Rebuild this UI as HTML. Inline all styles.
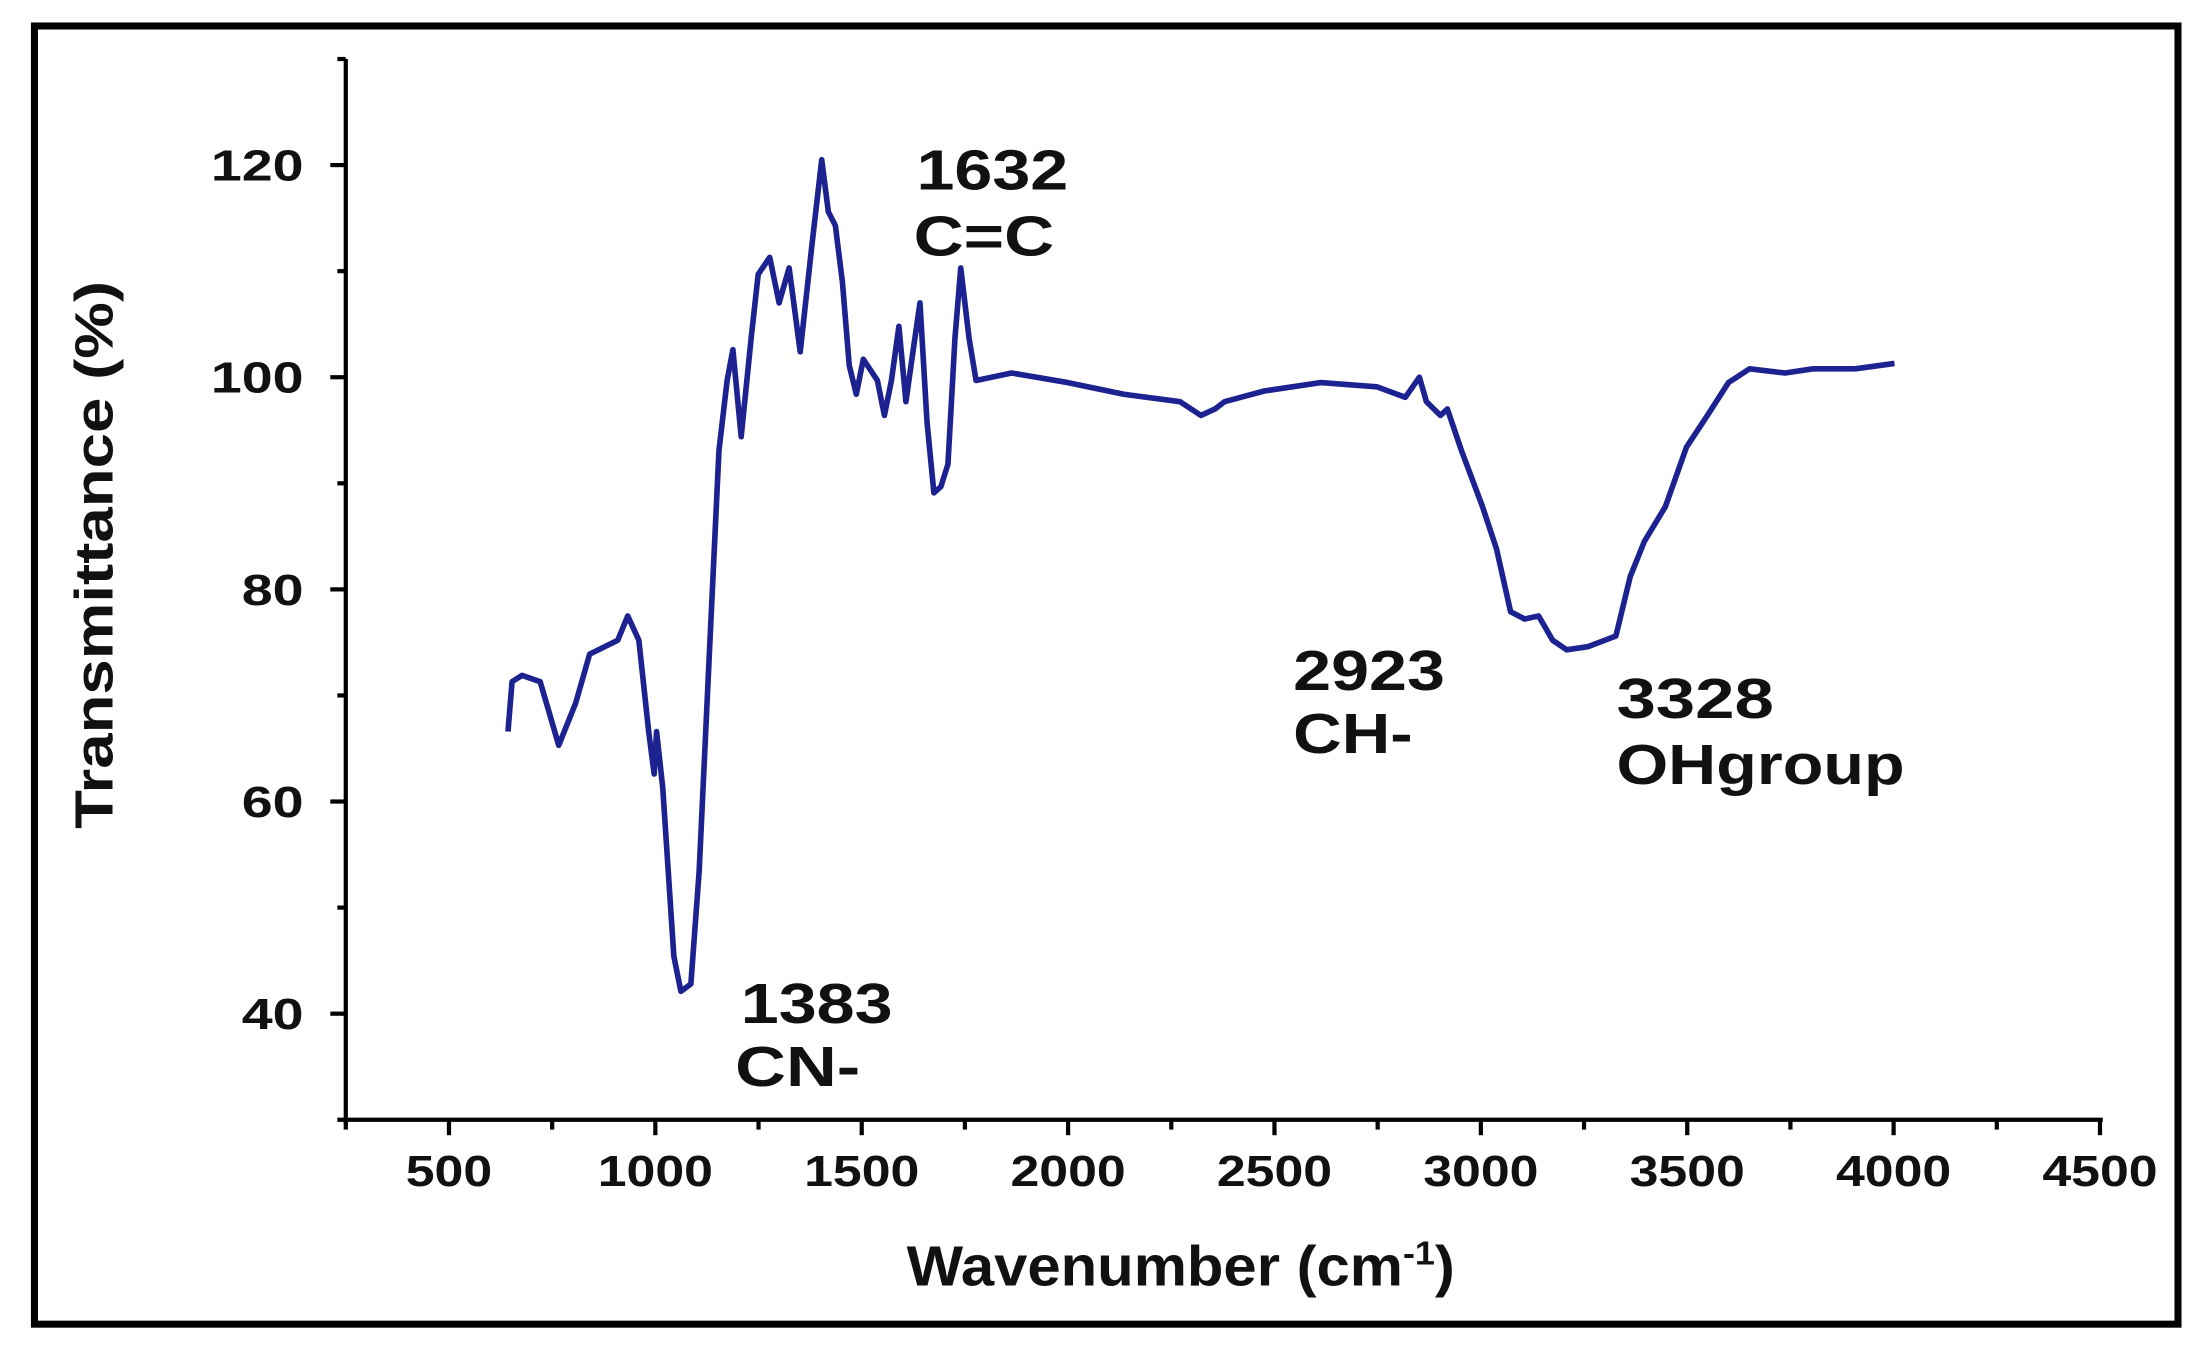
<!DOCTYPE html>
<html><head><meta charset="utf-8"><style>
html,body{margin:0;padding:0;background:#fff;}
svg{display:block;}
text{font-family:"Liberation Sans",sans-serif;fill:#111;}
</style></head><body>
<svg id="chart" width="2204" height="1360" viewBox="0 0 1568 968" preserveAspectRatio="none" xmlns="http://www.w3.org/2000/svg">
<rect x="24.5" y="18.5" width="1525" height="924" fill="#fff" stroke="#000" stroke-width="5"/>
<g id="axes"></g>
<path id="spectrum" fill="none" stroke="#1c2290" stroke-width="4" stroke-linejoin="round"/>
<g font-size="40" font-weight="bold" lengthAdjust="spacingAndGlyphs">
<text x="652" y="135" textLength="108" lengthAdjust="spacingAndGlyphs">1632</text>
<text x="650" y="182" textLength="100" lengthAdjust="spacingAndGlyphs">C=C</text>
<text x="527" y="728" textLength="108" lengthAdjust="spacingAndGlyphs">1383</text>
<text x="523" y="773" textLength="89" lengthAdjust="spacingAndGlyphs">CN-</text>
<text x="920" y="491" textLength="108" lengthAdjust="spacingAndGlyphs">2923</text>
<text x="920" y="536" textLength="85" lengthAdjust="spacingAndGlyphs">CH-</text>
<text x="1150" y="511" textLength="112" lengthAdjust="spacingAndGlyphs">3328</text>
<text x="1150" y="558" textLength="205" lengthAdjust="spacingAndGlyphs">OHgroup</text>
</g>
<text x="645" y="915" font-size="40" font-weight="bold" textLength="390" lengthAdjust="spacingAndGlyphs">Wavenumber (cm<tspan font-size="24" dy="-15">-1</tspan><tspan dy="15">)</tspan></text>
<text transform="translate(80,395) rotate(-90)" font-size="38" font-weight="bold" text-anchor="middle" textLength="390" lengthAdjust="spacingAndGlyphs">Transmittance (%)</text>
</svg>
<script>
const wavenumbers=[643,653,677,721,766,807,841,909,933,960,984,997,1003,1018,1045,1062,1086,1106,1130,1154,1174,1188,1208,1232,1249,1277,1300,1324,1351,1379,1403,1419,1436,1453,1470,1487,1504,1538,1555,1572,1590,1607,1624,1641,1658,1675,1692,1709,1726,1740,1760,1777,1863,1999,2135,2271,2322,2356,2379,2475,2612,2748,2817,2851,2868,2902,2919,2953,3004,3038,3072,3106,3140,3174,3208,3259,3327,3362,3396,3447,3498,3549,3600,3651,3737,3805,3907,4002];
const transmittance=[66.6,71.3,71.9,71.3,65.3,69.3,73.9,75.2,77.5,75.2,66.6,62.6,66.6,61.3,45.4,42.1,42.8,53.4,73.2,93.1,99.7,102.6,94.4,103.7,109.7,111.3,107,110.3,102.4,112.3,120.5,115.6,114.3,109,101.1,98.4,101.7,99.7,96.4,99.7,104.8,97.7,102.4,107,95.8,89.1,89.7,91.8,103.7,110.3,103.7,99.7,100.4,99.5,98.4,97.7,96.4,97,97.7,98.7,99.5,99.1,98.1,100,97.7,96.4,97,93.1,87.8,83.8,77.9,77.2,77.5,75.2,74.3,74.6,75.6,81.2,84.5,87.8,93.4,96.4,99.5,100.8,100.4,100.8,100.8,101.3];
const xTicks=[500,1000,1500,2000,2500,3000,3500,4000,4500];
const yTicks=[40,60,80,100,120];
const xMin=250,xMax=4500,yMin=30,yMax=130;
function sx(v){return 246+(v-xMin)*(1494-246)/(xMax-xMin);}
function sy(v){return 797-(v-yMin)*(797-42)/(yMax-yMin);}
const NS="http://www.w3.org/2000/svg";
const axes=document.getElementById('axes');
function mk(tag,attrs,parent){const e=document.createElementNS(NS,tag);for(const k in attrs)e.setAttribute(k,attrs[k]);(parent||axes).appendChild(e);return e;}
const ya=mk('line',{x1:246,y1:sy(yMax),x2:246,y2:800,stroke:'#000','stroke-width':3});


const xa=mk('line',{x1:240,y1:797,x2:1496,y2:797,stroke:'#000','stroke-width':3});


for(let v=xMin;v<=xMax;v+=250){
  const major=xTicks.includes(v);
  const t=mk('line',{x1:sx(v),y1:797,x2:sx(v),y2:major?808:804,stroke:'#000','stroke-width':3});
  
  
}
xTicks.forEach(v=>{
  const s=String(v);
  const t=mk('text',{x:sx(v),y:844,'font-size':31,'font-weight':'bold','text-anchor':'middle',textLength:s.length*20.5,lengthAdjust:'spacingAndGlyphs'});
  t.textContent=s;
  
  
});
for(let v=40;v<=yMax;v+=10){
  const major=yTicks.includes(v);
  const t=mk('line',{x1:major?235:240,y1:sy(v),x2:246,y2:sy(v),stroke:'#000','stroke-width':3});
  
  
}
yTicks.forEach(v=>{
  const s=String(v);
  const t=mk('text',{x:216,y:sy(v)+11,'font-size':31,'font-weight':'bold','text-anchor':'end',textLength:s.length*22,lengthAdjust:'spacingAndGlyphs'});
  t.textContent=s;
  
  
});
let d='';
wavenumbers.forEach((w,i)=>{d+=(i?'L':'M')+sx(w).toFixed(1)+','+sy(transmittance[i]).toFixed(1);});
document.getElementById('spectrum').setAttribute('d',d);
</script>
</body></html>
